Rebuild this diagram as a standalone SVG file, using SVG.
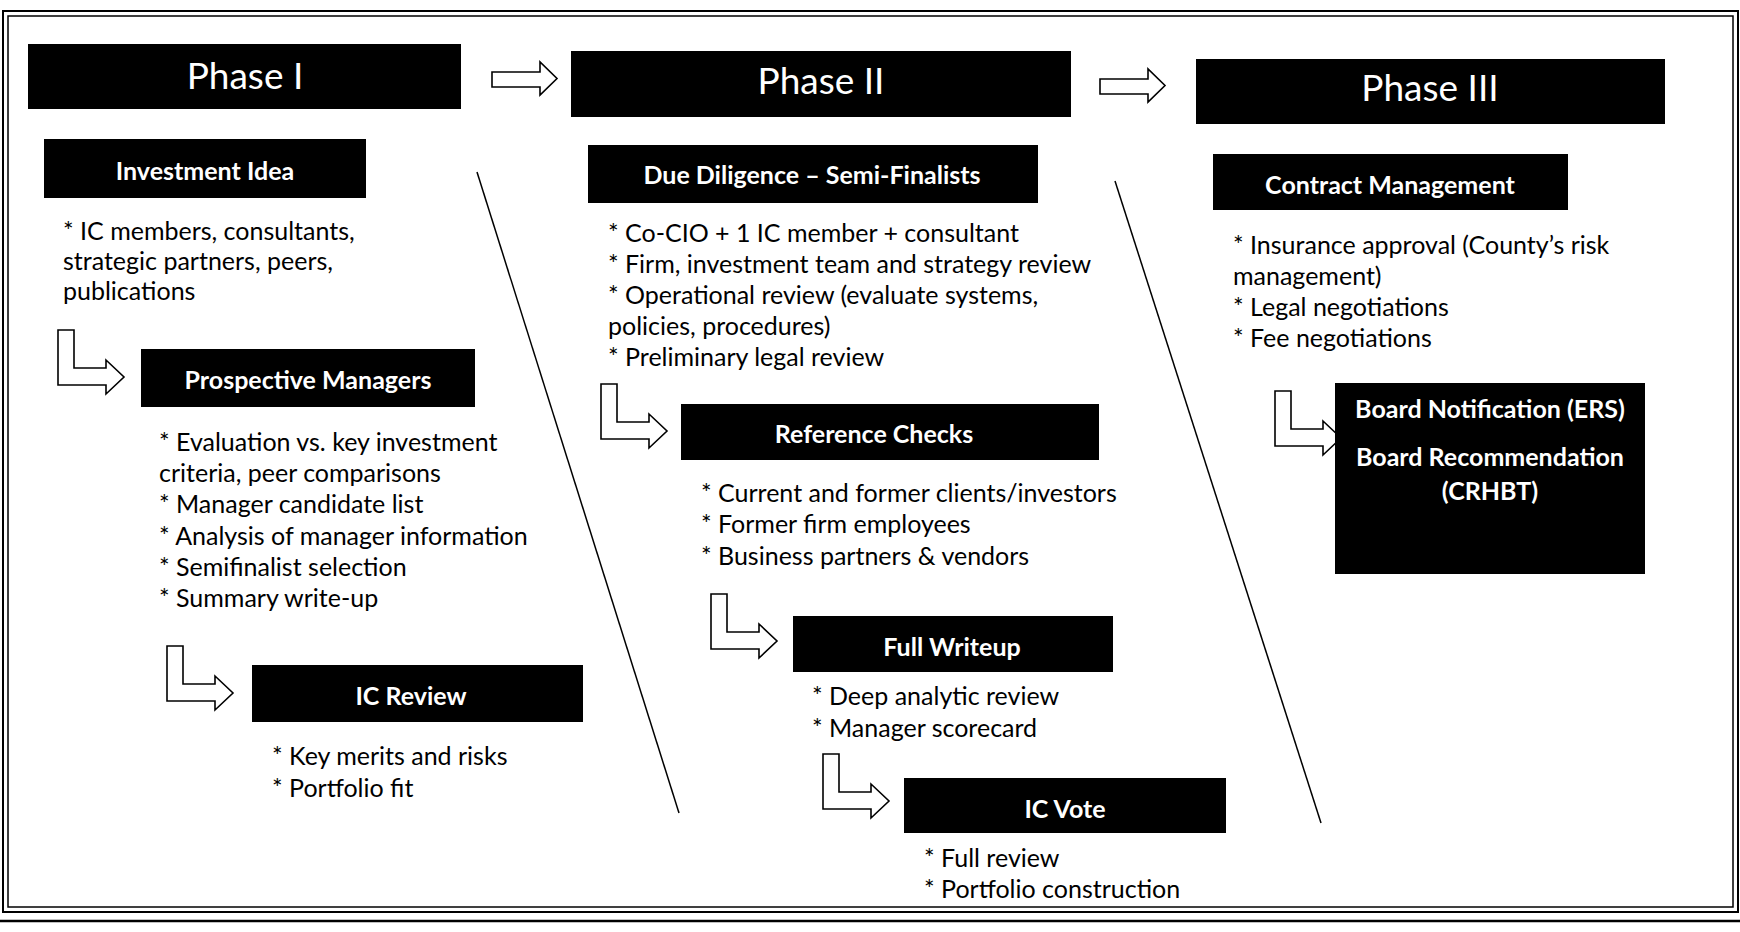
<svg xmlns="http://www.w3.org/2000/svg" width="1740" height="932" viewBox="0 0 1740 932">
<style>
.box{fill:#000}
.title{font-family:Lato,"Liberation Sans",sans-serif;font-size:37px;fill:#fff;text-anchor:middle}
.head{font-family:Lato,"Liberation Sans",sans-serif;font-size:25px;font-weight:bold;fill:#fff;text-anchor:middle}
.bul{font-family:Lato,"Liberation Sans",sans-serif;font-size:25px;fill:#000}
.arr{fill:#fff;stroke:#000;stroke-width:1.6;stroke-linejoin:miter}
.div{stroke:#000;stroke-width:1.5;fill:none}
.frame{fill:none;stroke:#000}
</style>
<defs>
<path id="blk" class="arr" d="M0,10 H48 V0 L65,16.5 L48,33 V25 H0 Z"/>
<path id="elb" class="arr" d="M0,0 H16 V38 H48 V30 L66,47 L48,64 V55 H0 Z"/>
</defs>
<rect width="1740" height="932" fill="#fff"/>
<g id="frame">
<rect class="frame" x="3" y="11" width="1735" height="901" stroke-width="2"/>
<rect class="frame" x="8" y="16" width="1725" height="891" stroke-width="1.5"/>
<line x1="0" y1="921" x2="1740" y2="921" stroke="#000" stroke-width="2.5"/>
</g>
<g id="connectors">
<use href="#blk" x="492" y="62"/>
<use href="#blk" x="1100" y="69"/>
<use href="#elb" x="58" y="330"/>
<use href="#elb" x="167" y="646"/>
<use href="#elb" x="601" y="384"/>
<use href="#elb" x="711" y="594"/>
<use href="#elb" x="823" y="754"/>
<use href="#elb" x="1275" y="391"/>
<line class="div" x1="477" y1="172" x2="679" y2="813"/>
<line class="div" x1="1115" y1="181" x2="1321" y2="823"/>
</g>
<g id="phase1">
<rect class="box" x="28" y="44" width="433" height="65"/>
<text class="title" x="245" y="89">Phase I</text>
</g>
<g id="phase2">
<rect class="box" x="571" y="51" width="500" height="66"/>
<text class="title" x="821" y="94">Phase II</text>
</g>
<g id="phase3">
<rect class="box" x="1196" y="59" width="469" height="65"/>
<text class="title" x="1430" y="101">Phase III</text>
</g>
<g id="investment-idea">
<rect class="box" x="44" y="139" width="322" height="59"/>
<text class="head" x="205" y="180">Investment Idea</text>
<text class="bul" x="63" y="240">* IC members, consultants,</text>
<text class="bul" x="63" y="270">strategic partners, peers,</text>
<text class="bul" x="63" y="300">publications</text>
</g>
<g id="prospective-managers">
<rect class="box" x="141" y="349" width="334" height="58"/>
<text class="head" x="308" y="389">Prospective Managers</text>
<text class="bul" x="159" y="451">* Evaluation vs. key investment</text>
<text class="bul" x="159" y="482">criteria, peer comparisons</text>
<text class="bul" x="159" y="513">* Manager candidate list</text>
<text class="bul" x="159" y="545">* Analysis of manager information</text>
<text class="bul" x="159" y="576">* Semifinalist selection</text>
<text class="bul" x="159" y="607">* Summary write-up</text>
</g>
<g id="ic-review">
<rect class="box" x="252" y="665" width="331" height="57"/>
<text class="head" x="411" y="705">IC Review</text>
<text class="bul" x="272" y="765">* Key merits and risks</text>
<text class="bul" x="272" y="797">* Portfolio fit</text>
</g>
<g id="due-diligence">
<rect class="box" x="588" y="145" width="450" height="58"/>
<text class="head" x="812" y="184">Due Diligence – Semi-Finalists</text>
<text class="bul" x="608" y="242">* Co-CIO + 1 IC member + consultant</text>
<text class="bul" x="608" y="273">* Firm, investment team and strategy review</text>
<text class="bul" x="608" y="304">* Operational review (evaluate systems,</text>
<text class="bul" x="608" y="335">policies, procedures)</text>
<text class="bul" x="608" y="366">* Preliminary legal review</text>
</g>
<g id="reference-checks">
<rect class="box" x="681" y="404" width="418" height="56"/>
<text class="head" x="874" y="443">Reference Checks</text>
<text class="bul" x="701" y="502">* Current and former clients/investors</text>
<text class="bul" x="701" y="533">* Former firm employees</text>
<text class="bul" x="701" y="565">* Business partners &amp; vendors</text>
</g>
<g id="full-writeup">
<rect class="box" x="793" y="616" width="320" height="56"/>
<text class="head" x="952" y="656">Full Writeup</text>
<text class="bul" x="812" y="705">* Deep analytic review</text>
<text class="bul" x="812" y="737">* Manager scorecard</text>
</g>
<g id="ic-vote">
<rect class="box" x="904" y="778" width="322" height="55"/>
<text class="head" x="1065" y="818">IC Vote</text>
<text class="bul" x="924" y="867">* Full review</text>
<text class="bul" x="924" y="898">* Portfolio construction</text>
</g>
<g id="contract-management">
<rect class="box" x="1213" y="154" width="355" height="56"/>
<text class="head" x="1390" y="194">Contract Management</text>
<text class="bul" x="1233" y="254">* Insurance approval (County’s risk</text>
<text class="bul" x="1233" y="285">management)</text>
<text class="bul" x="1233" y="316">* Legal negotiations</text>
<text class="bul" x="1233" y="347">* Fee negotiations</text>
</g>
<g id="board">
<rect class="box" x="1335" y="383" width="310" height="191"/>
<text class="head" x="1490" y="418">Board Notification (ERS)</text>
<text class="head" x="1490" y="466">Board Recommendation</text>
<text class="head" x="1490" y="500">(CRHBT)</text>
</g>
</svg>
